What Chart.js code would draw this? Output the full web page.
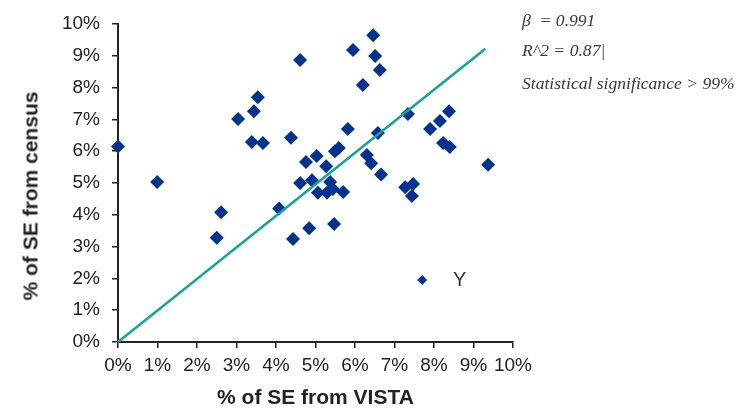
<!DOCTYPE html>
<html>
<head>
<meta charset="utf-8">
<script src="https://cdn.jsdelivr.net/npm/chart.js@4/dist/chart.umd.min.js"></script>
<style>
  html, body { margin: 0; padding: 0; background: #fff; }
  #wrap { position: relative; width: 736px; height: 409px; }
  .note { position: absolute; font-family: "Liberation Serif", "DejaVu Serif", serif; font-style: italic; font-size: 17.6px; color: #3a3a3a; white-space: nowrap; }
  #ylab { position: absolute; left: 453px; top: 268px; font-family: "Liberation Sans", Arial, sans-serif; font-size: 20px; color: #333; }
  #ytitle { position: absolute; left: 30px; top: 196px; transform: translate(-50%, -50%) rotate(-90deg);
    font-family: "Liberation Sans", Arial, sans-serif; font-size: 21px; font-weight: bold; color: #222; white-space: nowrap; line-height: 1; }
</style>
</head>
<body>
<div id="wrap">
  <canvas id="chart" width="736" height="409"></canvas>
  <div id="ytitle">% of SE from census</div>
  <div class="note" style="left:522px; top:10px;">β&nbsp; = 0.991</div>
  <div class="note" style="left:522px; top:40px;">R^2 = 0.87|</div>
  <div class="note" style="left:522px; top:73px;">Statistical significance &gt; 99%</div>
  <div id="ylab">Y</div>
</div>
<script>
// % of SE from VISTA (x) vs % of SE from census (y)
const vistaX = [0.0, 0.99, 2.61, 2.50, 3.04, 3.44, 3.54, 3.39, 3.67, 4.08, 4.38, 4.43, 4.61, 4.61, 4.76, 4.84,
  4.91, 5.03, 5.06, 5.27, 5.37, 5.29, 5.44, 5.70, 5.47, 5.49, 5.59, 5.82, 5.95, 6.20, 6.30, 6.41,
  6.46, 6.51, 6.58, 6.63, 6.66, 7.27, 7.34, 7.44, 7.47, 7.90, 8.15, 8.23, 8.38, 8.40, 9.37];
const censusY = [6.15, 5.03, 4.08, 3.28, 7.01, 7.26, 7.70, 6.29, 6.26, 4.20, 6.42, 3.24, 8.87, 5.00, 5.66, 3.58,
  5.09, 5.85, 4.69, 5.53, 5.03, 4.69, 4.81, 4.72, 3.71, 6.00, 6.10, 6.70, 9.18, 8.08, 5.88, 5.62,
  9.65, 8.99, 6.57, 8.55, 5.27, 4.87, 7.17, 4.59, 4.97, 6.70, 6.95, 6.26, 7.26, 6.13, 5.57];

// the point labelled "Y"
const pointYx = [7.70];
const pointYy = [1.95];

// fitted line (beta = 0.991)
const fitX = [0, 9.3];
const fitY = [0, 9.22];

const tickLabels = ['0%', '1%', '2%', '3%', '4%', '5%', '6%', '7%', '8%', '9%', '10%'];

const toPts = (xs, ys) => xs.map((x, i) => ({ x: x, y: ys[i] }));

const axisFont = { family: '"Liberation Sans", Arial, sans-serif', size: 19 };
const titleFont = { family: '"Liberation Sans", Arial, sans-serif', size: 21, weight: 'bold', lineHeight: 1.0 };

new Chart(document.getElementById('chart').getContext('2d'), {
  type: 'scatter',
  data: {
    datasets: [
      {
        type: 'line',
        data: toPts(fitX, fitY),
        borderColor: '#17a398',
        borderWidth: 2.5,
        pointRadius: 0,
        fill: false,
        clip: false,
        order: 0
      },
      {
        data: toPts(vistaX, censusY),
        backgroundColor: '#00338f',
        borderWidth: 0,
        pointStyle: 'rectRot',
        pointRadius: 7,
        clip: false,
        order: 1
      },
      {
        data: toPts(pointYx, pointYy),
        backgroundColor: '#00338f',
        borderWidth: 0,
        pointStyle: 'rectRot',
        pointRadius: 5,
        clip: false,
        order: 1
      }
    ]
  },
  options: {
    responsive: false,
    animation: false,
    layout: { padding: { left: 0, right: 223, top: 24, bottom: 0 } },
    plugins: { legend: { display: false }, tooltip: { enabled: false } },
    scales: {
      x: {
        min: 0, max: 10,
        afterFit: function(scale) { scale.height = 67; },
        ticks: {
          stepSize: 1, color: '#222', font: axisFont, padding: 6, maxRotation: 0, autoSkip: false,
          callback: function(v) { return tickLabels[Math.round(v)]; }
        },
        grid: { drawOnChartArea: false, color: '#222', tickLength: 6, lineWidth: 1.5 },
        border: { color: '#222', width: 2 },
        title: { display: true, text: '% of SE from VISTA', color: '#222', font: titleFont, padding: { top: 0.5, bottom: 0.5 } }
      },
      y: {
        min: 0, max: 10,
        afterFit: function(scale) { scale.width = 118; },
        ticks: {
          stepSize: 1, color: '#222', font: axisFont, padding: 12,
          callback: function(v) { return tickLabels[Math.round(v)]; }
        },
        grid: { drawOnChartArea: false, color: '#222', tickLength: 6, lineWidth: 1.5 },
        border: { color: '#222', width: 2 }
      }
    }
  }
});
</script>
</body>
</html>
